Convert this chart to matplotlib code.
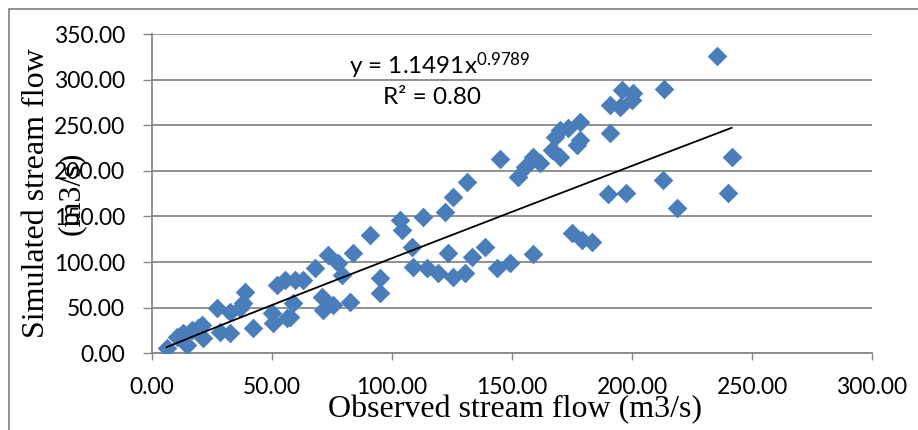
import matplotlib.pyplot as plt
from matplotlib.patches import Rectangle
import numpy as np

# observed vs simulated stream flow (m3/s)
observed = [6.1, 10.3, 14.5, 13.0, 16.5, 20.7, 19.3, 21.4, 27.0, 28.3,
            32.5, 32.5, 36.7, 38.8, 38.0, 42.2, 49.9, 50.5, 52.0, 55.4,
            59.6, 56.1, 58.9, 63.0, 67.9, 70.7, 71.4, 75.5, 73.5, 77.6,
            79.0, 83.9, 82.5, 90.8, 95.0, 95.0, 103.3, 104.0, 108.2, 108.9,
            113.0, 114.5, 119.3, 125.5, 130.4, 123.5, 133.2, 138.8, 143.6, 149.2,
            158.9, 122.1, 125.5, 131.1, 145.0, 152.6, 155.4, 158.9, 161.7, 166.5,
            167.9, 170.0, 173.5, 178.3, 178.3, 177.0, 170.0, 190.8, 195.0, 195.7,
            200.5, 199.9, 190.8, 213.3, 235.3, 241.5, 213.0, 190.1, 197.5, 218.6,
            240.1, 174.9, 179.0, 183.2, 57.5]
simulated = [5.5, 18.2, 9.1, 21.9, 25.5, 31.0, 27.4, 16.4, 49.3, 23.7,
             21.9, 45.6, 49.3, 67.5, 54.8, 27.4, 43.9, 32.9, 74.9, 80.4,
             80.4, 38.4, 54.8, 80.4, 93.2, 62.1, 47.5, 53.0, 107.8, 98.7,
             85.9, 109.6, 56.6, 129.7, 82.2, 65.8, 146.2, 135.2, 116.9, 95.0,
             149.8, 93.2, 87.7, 84.0, 87.7, 109.6, 105.9, 116.9, 93.2, 98.7,
             108.9, 155.3, 171.7, 188.2, 212.7, 193.6, 204.6, 215.6, 208.3, 222.9,
             237.5, 244.8, 246.7, 254.0, 233.9, 228.4, 215.6, 272.3, 270.4, 288.7,
             285.1, 277.7, 241.9, 289.5, 326.3, 215.6, 190.0, 174.7, 176.1, 159.0,
             175.4, 131.6, 124.2, 122.4, 40.1]

# power trendline shown on the chart: y = a * x^b
coef_a = 1.1491
coef_b = 0.9789

plt.rcParams['font.family'] = ['Lato', 'DejaVu Sans']
plt.rcParams['mathtext.fontset'] = 'custom'
plt.rcParams['mathtext.rm'] = 'Lato'
plt.rcParams['mathtext.default'] = 'regular'

W, H = 918, 430
fig = plt.figure(figsize=(W / 100, H / 100), dpi=100)
ax = fig.add_axes([152 / W, 1 - 353.3 / H, 720 / W, 319.3 / H])

grey = '#888888'
ax.scatter(observed, simulated, marker='D', s=100, color='#4a7ebb', linewidths=0, zorder=3)

xt = np.linspace(min(observed), max(observed), 200)
ax.plot(xt, coef_a * xt ** coef_b, color='black', lw=1.3, zorder=4)

ax.set_xlim(0, 300)
ax.set_ylim(0, 350)
ax.set_xticks(np.arange(0, 301, 50))
ax.set_yticks(np.arange(0, 351, 50))
ax.set_xticklabels([f'{v:.2f}' for v in np.arange(0, 301, 50)])
ax.set_yticklabels([f'{v:.2f}' for v in np.arange(0, 351, 50)])
ax.yaxis.grid(True, color=grey, lw=1.3)
ax.set_axisbelow(True)
for s in ['top', 'right']:
    ax.spines[s].set_visible(False)
for s in ['left', 'bottom']:
    ax.spines[s].set_color(grey)
    ax.spines[s].set_linewidth(1.3)
ax.tick_params(axis='y', length=6.5, width=1, color=grey, pad=13, labelsize=16.5)
ax.tick_params(axis='x', length=5, width=1, color=grey, pad=12, labelsize=16.5)

ax.text(440 / W, 1 - 66 / H, 'y = 1.1491x$^{0.9789}$', transform=fig.transFigure,
        ha='center', va='center', fontsize=17.5)
ax.text(432 / W, 1 - 97 / H, 'R² = 0.80', transform=fig.transFigure,
        ha='center', va='center', fontsize=17.5)

fig.text(515 / W, 1 - 410 / H, 'Observed stream flow (m3/s)', ha='center', va='center',
         fontsize=23, family='Liberation Serif')
fig.text(54 / W, 1 - 193 / H, 'Simulated stream flow\n(m3/s)', ha='center', va='center',
         rotation=90, fontsize=23, family='Liberation Serif', linespacing=1.3)

# chart area border (cut off at right and bottom in the original)
fig.patches.append(Rectangle((9 / W, -0.1), 1.2, 1.1 - 9 / H, transform=fig.transFigure,
                             fill=False, edgecolor=grey, lw=1.3))

fig.savefig('out.png', dpi=100)
